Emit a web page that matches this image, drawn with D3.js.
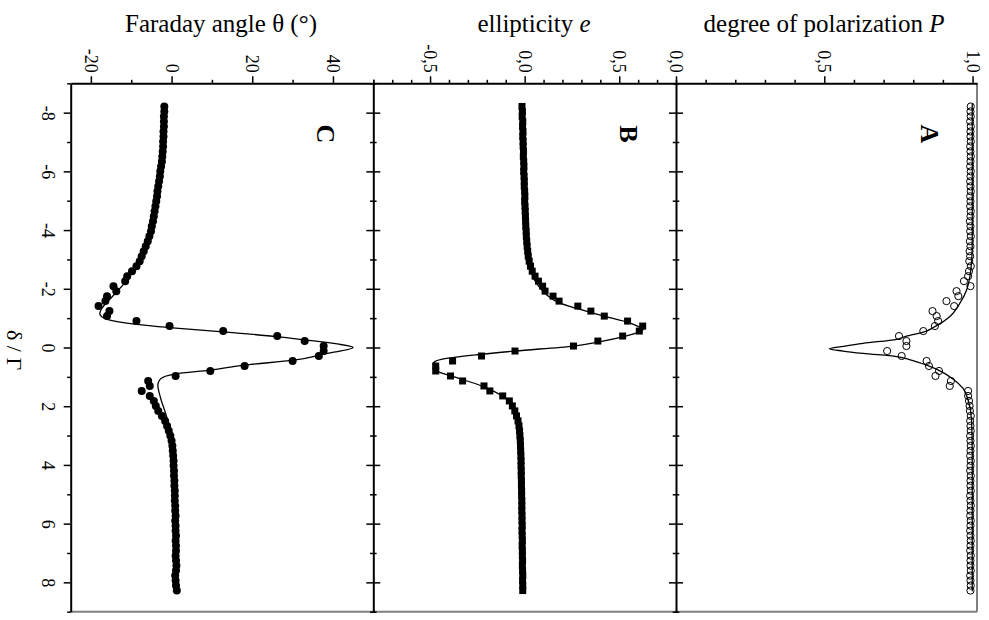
<!DOCTYPE html>
<html><head><meta charset="utf-8">
<script src="https://cdn.jsdelivr.net/npm/d3@7"></script>
<style>
body{margin:0;background:#fff}
svg{display:block}
text{font-family:"Liberation Serif","Times New Roman",serif;fill:#000}
</style>
</head><body>
<svg id="chart" width="989" height="620"></svg>
<script>
// detuning delta/Gamma of the measured points
const delta = [-8.21,-8.04,-7.87,-7.70,-7.53,-7.36,-7.19,-7.02,-6.85,-6.68,
  -6.51,-6.34,-6.17,-6.00,-5.83,-5.66,-5.49,-5.32,-5.15,-4.98,
  -4.81,-4.64,-4.47,-4.30,-4.13,-3.96,-3.79,-3.62,-3.45,-3.28,
  -3.11,-2.94,-2.77,-2.60,-2.43,-2.26,-2.09,-1.92,-1.75,-1.58,
  -1.41,-1.24,-1.07,-0.90,-0.73,-0.56,-0.39,-0.22,-0.05,0.12,
  0.29,0.46,0.63,0.80,0.97,1.14,1.31,1.48,1.65,1.82,
  1.99,2.16,2.33,2.50,2.67,2.84,3.01,3.18,3.35,3.52,
  3.69,3.86,4.03,4.20,4.37,4.54,4.71,4.88,5.05,5.22,
  5.39,5.56,5.73,5.90,6.07,6.24,6.41,6.58,6.75,6.92,
  7.09,7.26,7.43,7.60,7.77,7.94,8.11,8.28];

// panel A: degree of polarization P
const polarization = [0.994,0.993,0.994,0.992,0.994,0.993,0.993,0.994,0.992,0.993,
  0.994,0.993,0.992,0.994,0.993,0.992,0.993,0.994,0.992,0.993,
  0.992,0.994,0.993,0.991,0.993,0.992,0.994,0.991,0.993,0.990,
  0.992,0.989,0.994,0.988,0.985,0.971,0.993,0.946,0.952,0.912,
  0.938,0.865,0.879,0.884,0.873,0.834,0.752,0.777,0.777,0.712,
  0.761,0.845,0.853,0.887,0.875,0.927,0.923,0.985,0.985,0.988,
  0.990,0.991,0.994,0.992,0.993,0.994,0.992,0.993,0.994,0.993,
  0.992,0.994,0.993,0.992,0.994,0.993,0.993,0.994,0.992,0.993,
  0.994,0.993,0.992,0.994,0.993,0.992,0.993,0.994,0.993,0.992,
  0.994,0.993,0.993,0.994,0.992,0.993,0.994,0.993];

// panel B: ellipticity e
const ellipticity = [-0.014,-0.012,-0.013,-0.010,-0.011,-0.009,-0.010,-0.008,-0.008,-0.006,
  -0.007,-0.005,-0.004,-0.005,-0.003,-0.002,-0.002,0.000,0.001,0.000,
  0.002,0.003,0.004,0.005,0.006,0.008,0.009,0.011,0.013,0.016,
  0.019,0.024,0.031,0.040,0.055,0.073,0.095,0.108,0.150,0.182,
  0.281,0.350,0.421,0.544,0.624,0.606,0.518,0.387,0.258,-0.051,
  -0.228,-0.381,-0.470,-0.470,-0.392,-0.328,-0.215,-0.184,-0.116,-0.081,
  -0.065,-0.052,-0.043,-0.035,-0.030,-0.027,-0.025,-0.023,-0.022,-0.021,
  -0.020,-0.019,-0.019,-0.018,-0.018,-0.017,-0.017,-0.016,-0.016,-0.015,
  -0.015,-0.015,-0.014,-0.014,-0.013,-0.014,-0.013,-0.012,-0.013,-0.012,
  -0.012,-0.011,-0.012,-0.011,-0.010,-0.011,-0.010,-0.010];

// panel C: Faraday angle theta (deg)
const faraday = [-1.8,-1.8,-1.9,-1.9,-1.9,-2.0,-2.0,-2.1,-2.1,-2.2,
  -2.3,-2.4,-2.6,-2.8,-2.9,-3.1,-3.3,-3.5,-3.6,-3.8,
  -4.0,-4.2,-4.4,-4.6,-4.9,-5.1,-5.5,-5.9,-6.4,-6.9,
  -7.4,-7.9,-8.7,-9.8,-11.0,-11.5,-14.4,-13.7,-16.0,-16.4,
  -18.1,-15.4,-16.0,-8.7,-0.5,12.8,26.2,33.0,37.7,37.7,
  36.5,30.0,18.1,9.6,1.0,-5.8,-5.4,-7.4,-5.4,-4.4,
  -3.9,-3.3,-2.4,-1.6,-1.1,-0.7,-0.3,0.0,0.2,0.3,
  0.4,0.5,0.5,0.6,0.6,0.7,0.7,0.8,0.8,0.8,
  0.9,0.9,1.0,0.9,1.0,1.0,1.1,1.0,1.1,1.1,
  1.0,1.1,1.2,1.1,0.9,1.0,1.1,1.3];

// fitted curves
const fitDeltaA = [-8.3,-6,-4.3,-3.6,-2.98,-2.41,-1.96,-1.5,-1.05,-0.71,-0.52,-0.38,-0.28,-0.14,-0.04,0.04,0.12,0.20,0.31,0.42,0.60,0.82,1.08,1.39,1.79,2.47,3.6,6,8.3];
const fitA = [0.999,0.999,0.999,0.999,0.997,0.991,0.980,0.957,0.923,0.873,0.834,0.775,0.744,0.631,0.565,0.517,0.563,0.631,0.744,0.790,0.845,0.895,0.935,0.968,0.985,0.9966,0.999,0.999,0.999];

const fitDeltaB = [-8.3,-6.5,-5,-4,-3.3,-2.8,-2.3,-2.0,-1.79,-1.51,-1.34,-1.05,-0.85,-0.69,-0.63,-0.55,-0.37,-0.2,-0.05,0.12,0.25,0.37,0.48,0.56,0.65,0.82,0.97,1.33,1.67,2.02,2.7,3.5,5,8.3];
const fitB = [-0.008,-0.003,0.003,0.008,0.015,0.027,0.052,0.085,0.117,0.187,0.27,0.43,0.55,0.61,0.629,0.61,0.523,0.40,0.258,-0.051,-0.26,-0.413,-0.475,-0.484,-0.48,-0.457,-0.387,-0.219,-0.113,-0.060,-0.025,-0.015,-0.010,-0.005];

const fitDeltaC = [-8.3,-7,-6,-5,-4.4,-3.89,-3.43,-2.98,-2.58,-2.2,-1.85,-1.6,-1.35,-1.16,-1.05,-0.96,-0.79,-0.68,-0.53,-0.37,-0.26,-0.12,0.0,0.2,0.43,0.6,0.77,0.90,1.08,1.28,1.68,2.24,2.81,3.27,4,5,6.5,8.3];
const fitC = [-1.8,-2.1,-2.7,-3.8,-4.6,-5.4,-6.5,-7.9,-9.6,-11.6,-13.9,-15.6,-17.2,-17.8,-17.3,-16.0,-8.7,-0.5,12.8,26.2,33,41.1,45,38.6,30.3,18.1,9.6,1.0,-2.8,-3.4,-2.8,-1.5,-0.3,0.3,0.6,0.8,1.0,1.1];

// ticks
const deltaTicks = [-8,-6,-4,-2,0,2,4,6,8];
const deltaLabels = ["-8","-6","-4","-2","0","2","4","6","8"];
const deltaMinor = [-9,-7,-5,-3,-1,1,3,5,7,9];
const thetaTicks = [-20,0,20,40];
const thetaLabels = ["-20","0","20","40"];
const thetaMinor = [-10,10,30,50];
const eTicks = [-0.5,0,0.5];
const eLabels = ["-0,5","0,0","0,5"];
const eMinor = [-0.8,-0.7,-0.6,-0.4,-0.3,-0.2,-0.1,0.1,0.2,0.3,0.4,0.6,0.7,0.8];
const pTicks = [0,0.5,1.0];
const pLabels = ["0,0","0,5","1,0"];
const pMinor = [0.1,0.2,0.3,0.4,0.6,0.7,0.8,0.9];

const SERIF = '"Liberation Serif","Times New Roman",serif';
const svg = d3.select("#chart");
const TOP = 83.3, BOTTOM = 611.7;
const y = d3.scaleLinear().domain([-9, 9]).range([TOP, BOTTOM]);
const xT = d3.scaleLinear().domain([-25, 50]).range([70.7, 373.3]);
const xE = d3.scaleLinear().domain([-0.8, 0.8]).range([373.3, 676]);
const xP = d3.scaleLinear().domain([0, 1.015]).range([676, 977]);

// gray right & bottom frame edges
svg.append("line").attr("x1", xT.range()[0]).attr("x2", xP.range()[1])
  .attr("y1", BOTTOM).attr("y2", BOTTOM).attr("stroke", "#808080").attr("stroke-width", 2);
svg.append("line").attr("x1", xP.range()[1]).attr("x2", xP.range()[1])
  .attr("y1", TOP).attr("y2", BOTTOM).attr("stroke", "#808080").attr("stroke-width", 2);

// fit curves
function fitLine(xs, d, v) {
  const pts = d.map((dd, i) => [dd, v[i]]);
  return d3.line().x(p => xs(p[1])).y(p => y(p[0])).curve(d3.curveMonotoneY)(pts);
}
[[xP, fitDeltaA, fitA], [xE, fitDeltaB, fitB], [xT, fitDeltaC, fitC]].forEach(([xs, d, v]) => {
  svg.append("path").attr("d", fitLine(xs, d, v)).attr("fill", "none")
    .attr("stroke", "#000").attr("stroke-width", 1.3);
});

// markers
const ptsA = delta.map((d, i) => ({d, v: polarization[i]}));
const ptsB = delta.map((d, i) => ({d, v: ellipticity[i]}));
const ptsC = delta.map((d, i) => ({d, v: faraday[i]}));
svg.append("g").selectAll("circle").data(ptsA).join("circle")
  .attr("cx", p => xP(p.v)).attr("cy", p => y(p.d)).attr("r", 3.6)
  .attr("fill", "none").attr("stroke", "#000").attr("stroke-width", 1);
svg.append("g").selectAll("rect").data(ptsB).join("rect")
  .attr("x", p => xE(p.v) - 3.5).attr("y", p => y(p.d) - 3.5)
  .attr("width", 7).attr("height", 7).attr("fill", "#000");
svg.append("g").selectAll("circle").data(ptsC).join("circle")
  .attr("cx", p => xT(p.v)).attr("cy", p => y(p.d)).attr("r", 4).attr("fill", "#000");

// top axes
function topAxis(scale, ticks, labels, minor) {
  const g = svg.append("g").attr("transform", `translate(0,${TOP})`);
  g.call(d3.axisTop(scale).tickValues(ticks).tickFormat((d, i) => labels[i]).tickSize(7).tickSizeOuter(0));
  g.attr("font-family", SERIF).attr("font-size", 18);
  g.select(".domain").attr("stroke-width", 2);
  g.selectAll(".tick line").attr("stroke-width", 1.5);
  g.selectAll(".tick text").attr("x", 0).attr("y", 0).attr("dy", "0.35em")
    .attr("text-anchor", "end").attr("transform", "translate(0,-10.5) rotate(90)");
  const m = svg.append("g").attr("transform", `translate(0,${TOP})`);
  m.call(d3.axisTop(scale).tickValues(minor).tickFormat("").tickSize(3.5).tickSizeOuter(0));
  m.select(".domain").remove();
  m.selectAll(".tick line").attr("stroke-width", 1.5);
}
topAxis(xT, thetaTicks, thetaLabels, thetaMinor);
topAxis(xE, eTicks, eLabels, eMinor);
topAxis(xP, pTicks, pLabels, pMinor);

// left axis (delta / Gamma)
{
  const x0 = xT.range()[0];
  const g = svg.append("g").attr("transform", `translate(${x0},0)`);
  g.call(d3.axisLeft(y).tickValues(deltaTicks).tickFormat((d, i) => deltaLabels[i]).tickSize(7).tickSizeOuter(0));
  g.attr("font-family", SERIF).attr("font-size", 18);
  g.select(".domain").attr("stroke-width", 2);
  g.selectAll(".tick line").attr("stroke-width", 1.5);
  g.selectAll(".tick text").attr("x", 0).attr("y", 0).attr("dy", "0.35em")
    .attr("text-anchor", "middle").attr("transform", "translate(-22,0) rotate(90)");
  const m = svg.append("g").attr("transform", `translate(${x0},0)`);
  m.call(d3.axisLeft(y).tickValues(deltaMinor).tickFormat("").tickSize(3.5).tickSizeOuter(0));
  m.select(".domain").remove();
  m.selectAll(".tick line").attr("stroke-width", 1.5);
}

// panel boundaries with crossing ticks
[xE.range()[0], xP.range()[0]].forEach(xb => {
  const g = svg.append("g").attr("transform", `translate(${xb},0)`);
  g.call(d3.axisLeft(y).tickValues(deltaTicks).tickFormat("").tickSize(7).tickSizeOuter(0));
  g.select(".domain").attr("stroke-width", 2);
  g.selectAll(".tick line").attr("x1", 7).attr("stroke-width", 1.5);
  const m = svg.append("g").attr("transform", `translate(${xb},0)`);
  m.call(d3.axisLeft(y).tickValues(deltaMinor).tickFormat("").tickSize(3.3).tickSizeOuter(0));
  m.select(".domain").remove();
  m.selectAll(".tick line").attr("x1", 3.3).attr("stroke-width", 1.5);
});

// axis titles
svg.append("text").attr("x", 221).attr("y", 32).attr("text-anchor", "middle")
  .attr("font-size", 25).text("Faraday angle θ (°)");
const t2 = svg.append("text").attr("x", 534).attr("y", 32).attr("text-anchor", "middle").attr("font-size", 25);
t2.append("tspan").text("ellipticity ");
t2.append("tspan").attr("font-style", "italic").text("e");
const t3 = svg.append("text").attr("x", 824).attr("y", 32).attr("text-anchor", "middle").attr("font-size", 25);
t3.append("tspan").text("degree of polarization ");
t3.append("tspan").attr("font-style", "italic").text("P");

svg.append("text").attr("transform", "translate(15,350) rotate(90)").attr("text-anchor", "middle")
  .attr("dy", "0.35em").attr("font-size", 22).text("δ / Γ");

// panel letters
const letters = ["C", "B", "A"];
[xT.range()[1], xE.range()[1], xP.range()[1]].forEach((xr, i) => {
  svg.append("text").attr("transform", `translate(${xr - 47},134) rotate(90)`)
    .attr("text-anchor", "middle").attr("dy", "0.35em").attr("font-size", 26)
    .attr("font-weight", "bold").text(letters[i]);
});
</script>
</body></html>
